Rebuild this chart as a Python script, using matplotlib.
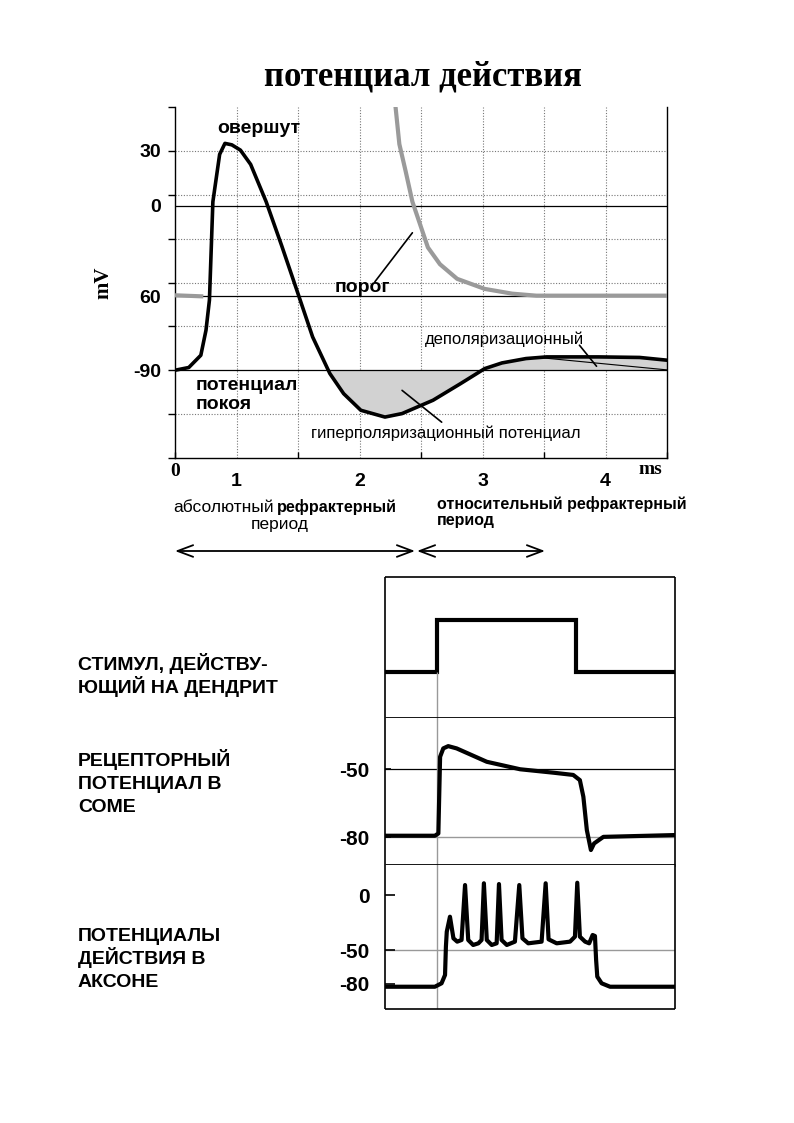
import numpy as np
import matplotlib
matplotlib.use("Agg")
import matplotlib.pyplot as plt

W, H = 794, 1123
SANS = "Liberation Sans"
SERIF = "Liberation Serif"

# ---- top chart: action potential (x in grid units, 0.5 per grid cell; y in mV)
ap_t = [0, 0.112, 0.210, 0.252, 0.280, 0.308, 0.363, 0.406, 0.462, 0.532, 0.615,
        0.741, 0.867, 0.993, 1.119, 1.259, 1.371, 1.511, 1.707, 1.846, 2.098,
        2.322, 2.518, 2.658, 2.854, 3.021, 3.441, 3.777, 4.0]
ap_mv = [-90, -88.5, -81.8, -68.1, -51.6, 2.2, 28.1, 34.1, 33.3, 30.4, 22.6,
         2.2, -21.8, -46.7, -71.8, -91.8, -102.8, -111.9, -115.6, -113.7, -106.4,
         -97.3, -89.1, -86.0, -83.6, -82.7, -82.7, -83.0, -84.5]

# threshold curve (grey)
thr_left_t = [0, 0.23]
thr_left_mv = [-49.0, -49.6]
thr_t = [1.79, 1.824, 1.875, 1.930, 1.986, 2.056, 2.154, 2.294, 2.518, 2.741, 2.937, 4.0]
thr_mv = [56, 33.7, 18.9, 2.2, -8.9, -22.8, -32, -40, -45.5, -48.1, -49.2, -49.2]

rest_mv = -90
thr_level = -49.5
y_marks = [54, 30, 6, -18, -42, -66, -90, -114, -138]
y_labels_at = [30, 0, thr_level, -90]
y_labels = ["30", "0", "60", "-90"]
x_labels_at = [0.5, 1.5, 2.5, 3.5]
x_labels = ["1", "2", "3", "4"]

# ---- bottom chart (t in arbitrary time units 0..100)
stim_t = [0, 17.8, 17.8, 65.9, 65.9, 100]
stim_v = [0, 0, 1, 1, 0, 0]

rec_t = [0, 17.2, 18.4, 19.0, 20.1, 21.8, 24.7, 35.1, 46.6, 58.0, 64.9, 67.2,
         68.4, 69.6, 71.0, 72.1, 75.3, 100]
rec_mv = [-79.4, -79.4, -78.4, -44.6, -40.9, -39.9, -40.9, -46.8, -50.1, -51.6,
          -52.6, -54.9, -62.2, -76.9, -85.7, -82.8, -79.9, -79.1]

axon_t = [0, 17.2, 19.5, 20.7, 21.0, 21.3, 22.4, 23.6, 24.9, 26.4, 27.6, 28.7,
          30.4, 32.2, 33.3, 34.1, 35.1, 36.8, 38.5, 39.3, 40.2, 42.0, 44.8, 46.3,
          47.4, 49.4, 54.0, 55.4, 56.4, 59.2, 63.8, 65.5, 66.3, 67.2, 69.0, 70.4,
          71.6, 72.4, 72.8, 73.2, 74.7, 77.6, 100]
axon_mv = [-82.8, -82.8, -79.7, -72.2, -46.7, -33.1, -19.6, -39.1, -42.1, -40.6,
           9.0, -40.6, -45.1, -43.6, -40.6, 10.6, -40.6, -45.1, -43.6, 9.9, -40.6,
           -45.1, -42.1, 9.0, -39.1, -43.6, -42.1, 10.6, -40.0, -43.6, -42.1, -37.6,
           11.1, -37.6, -42.1, -43.6, -36.1, -37.0, -58.7, -73.7, -79.7, -82.8, -82.8]

stim_onset = 18.1

side_labels = [
    (["СТИМУЛ, ДЕЙСТВУ-", "ЮЩИЙ НА ДЕНДРИТ"], [663, 686]),
    (["РЕЦЕПТОРНЫЙ", "ПОТЕНЦИАЛ В", "СОМЕ"], [759, 782, 805]),
    (["ПОТЕНЦИАЛЫ", "ДЕЙСТВИЯ В", "АКСОНЕ"], [934, 957, 980]),
]


def px_axes(l, t, r, b):
    return fig.add_axes([l / W, 1 - b / H, (r - l) / W, (b - t) / H])


def ftext(x, y, s, **kw):
    fig.text(x / W, 1 - y / H, s, **kw)


fig = plt.figure(figsize=(W / 100, H / 100), dpi=100)

ax = px_axes(175, 107, 667, 458)
ax.set_xlim(0, 4)
ax.set_ylim(-138, 54)

ap_t_a = np.array(ap_t)
ap_mv_a = np.array(ap_mv)
fill_c = "#d2d2d2"
ax.fill_between(ap_t_a, ap_mv_a, rest_mv, where=ap_mv_a < rest_mv,
                interpolate=True, color=fill_c, lw=0, zorder=1)
ax.fill_between(ap_t_a, ap_mv_a, rest_mv, where=(ap_mv_a > rest_mv) & (ap_t_a > 2.3),
                interpolate=True, color=fill_c, lw=0, zorder=1)

for v in [30, 6, -18, -42, -66, -114]:
    ax.axhline(v, color="#777777", lw=0.8, ls=(0, (1, 1.5)), zorder=0)
for v in np.arange(0.5, 4, 0.5):
    ax.axvline(v, color="#777777", lw=0.8, ls=(0, (1, 1.5)), zorder=0)
for v in [0, thr_level, rest_mv]:
    ax.axhline(v, color="black", lw=0.9, zorder=2)

ax.plot(thr_left_t, thr_left_mv, color="#9a9a9a", lw=3.0, zorder=3, solid_capstyle="butt")
ax.plot(thr_t, thr_mv, color="#9a9a9a", lw=3.0, zorder=3)
ax.plot(ap_t, ap_mv, color="black", lw=2.6, zorder=4, solid_joinstyle="round")

ax.spines["top"].set_visible(False)
for s in ["left", "bottom", "right"]:
    ax.spines[s].set_linewidth(1.0)

ax.yaxis.remove_overlapping_locs = False
ax.set_yticks(y_marks, minor=True)
ax.set_yticks(y_labels_at, y_labels)
ax.tick_params(axis="y", which="minor", direction="out", length=5, width=1)
ax.tick_params(axis="y", which="major", length=0, pad=10)
ax.set_xticks(np.arange(0, 4.01, 0.5), minor=True)
ax.set_xticks(x_labels_at, x_labels)
ax.tick_params(axis="x", which="minor", direction="in", length=4, width=1)
ax.tick_params(axis="x", which="major", length=0, pad=11)
for lab in ax.get_yticklabels() + ax.get_xticklabels():
    lab.set_fontfamily(SANS)
    lab.set_fontweight("bold")
    lab.set_fontsize(14)

ax.text(0.685, 42.4, "овершут", family=SANS, weight="bold", fontsize=14,
        ha="center", va="center")
ax.text(1.524, -44.5, "порог", family=SANS, weight="bold", fontsize=14,
        ha="center", va="center")
ax.text(0.168, -103.4, "потенциал\nпокоя", family=SANS, weight="bold", fontsize=14,
        ha="left", va="center", linespacing=1.15)
ax.text(2.675, -73.0, "деполяризационный", family=SANS, fontsize=12,
        ha="center", va="center")
ax.text(2.203, -124.5, "гиперполяризационный потенциал", family=SANS, fontsize=12,
        ha="center", va="center")
seg = dict(arrowstyle="-", lw=1.2, color="black", shrinkA=0, shrinkB=0)
ax.annotate("", xy=(1.930, -14.8), xytext=(1.625, -41.6), arrowprops=seg)
ax.annotate("", xy=(3.427, -87.8), xytext=(3.288, -76.3), arrowprops=seg)
ax.annotate("", xy=(2.168, -118.4), xytext=(1.846, -101), arrowprops=seg)
ax.annotate("", xy=(4.0, -89.8), xytext=(3.0, -83.3),
            arrowprops=dict(arrowstyle="-", lw=0.8, color="black", shrinkA=0, shrinkB=0))

ftext(423, 77, "потенциал действия", family=SERIF, weight="bold", fontsize=25,
      ha="center", va="center")
ftext(103, 283, "mV", family=SERIF, weight="bold", fontsize=15,
      ha="center", va="center", rotation=90)
ftext(175, 471, "0", family=SERIF, weight="bold", fontsize=14, ha="center", va="center")
ftext(650, 470, "ms", family=SERIF, weight="bold", fontsize=14, ha="center", va="center")

ftext(173, 507, "абсолютный", family=SANS, fontsize=12.5, ha="left", va="center")
ftext(277, 507, "рефрактерный", family=SANS, weight="bold", fontsize=11.6,
      ha="left", va="center")
ftext(280, 525, "период", family=SANS, fontsize=12.5, ha="center", va="center")
ftext(437, 504, "относительный рефрактерный", family=SANS, weight="bold",
      fontsize=11.5, ha="left", va="center")
ftext(437, 521, "период", family=SANS, weight="bold", fontsize=11.5,
      ha="left", va="center")

arr = dict(arrowstyle="<->, head_length=0.8, head_width=0.3", lw=1.3,
           color="black", shrinkA=0, shrinkB=0, mutation_scale=14)
ax.annotate("", xy=(415, H - 551), xytext=(175, H - 551), xycoords="figure pixels",
            textcoords="figure pixels", arrowprops=arr, annotation_clip=False)
ax.annotate("", xy=(545, H - 551), xytext=(417, H - 551), xycoords="figure pixels",
            textcoords="figure pixels", arrowprops=arr, annotation_clip=False)

# ---- bottom chart
ax1 = px_axes(385, 577, 675, 718)
ax2 = px_axes(385, 718, 675, 865)
ax3 = px_axes(385, 865, 675, 1009)
for a in (ax1, ax2, ax3):
    a.set_xlim(0, 100)
    a.set_xticks([])
    for s in a.spines.values():
        s.set_linewidth(1.2)
        s.set_capstyle("butt")
    a.tick_params(axis="y", direction="in", length=4, width=1.2, pad=11)
ax1.spines["bottom"].set_linewidth(2.0)
ax2.spines["bottom"].set_linewidth(2.0)
ax2.spines["top"].set_visible(False)
ax3.spines["top"].set_visible(False)

ax1.set_ylim(-0.874, 1.822)
ax1.plot(stim_t, stim_v, color="black", lw=3.0, solid_joinstyle="miter")
ax1.vlines(stim_onset, -0.874, 0, color="#999999", lw=1.0)
ax1.set_yticks([0], [""])

ax2.set_ylim(-92.3, -27.5)
ax2.axhline(-50, color="black", lw=0.9, zorder=0)
ax2.axhline(-80, color="#999999", lw=1.0, zorder=0)
ax2.axvline(stim_onset, color="#999999", lw=1.0, zorder=0)
ax2.plot(rec_t, rec_mv, color="black", lw=3.0, solid_joinstyle="round")
ax2.set_yticks([-50, -80], ["-50", "-80"])

ax3.set_ylim(-102.9, 27.1)
ax3.axhline(-50, color="#999999", lw=1.0, zorder=0)
ax3.axvline(stim_onset, color="#999999", lw=1.0, zorder=0)
ax3.plot(axon_t, axon_mv, color="black", lw=3.0, solid_joinstyle="round")
ax3.set_yticks([0, -50, -80], ["0", "-50", "-80"])
ax3.tick_params(axis="y", length=7)

for a in (ax2, ax3):
    for lab in a.get_yticklabels():
        lab.set_fontfamily(SANS)
        lab.set_fontweight("bold")
        lab.set_fontsize(15)

# one text per line so that spacing stays even (baseline = centre + half cap height)
for lines, ys in side_labels:
    for s, y in zip(lines, ys):
        ftext(78, y + 7, s, family=SANS, weight="bold", fontsize=14,
              ha="left", va="baseline")

fig.savefig("out.png", dpi=100)
